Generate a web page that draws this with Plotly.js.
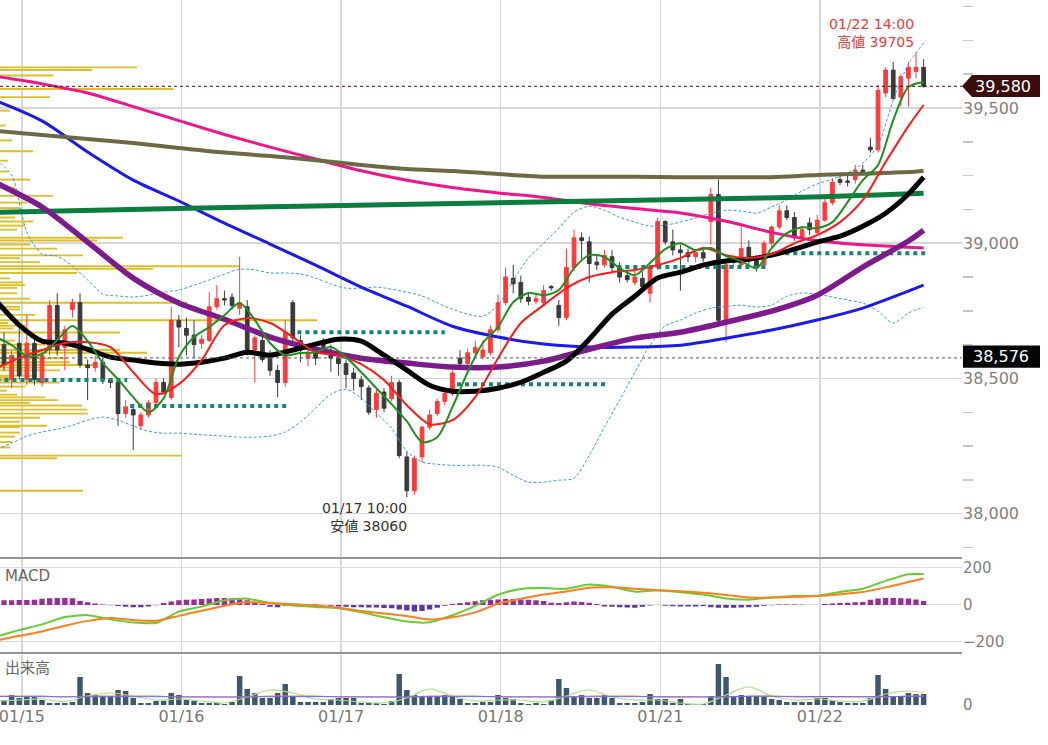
<!DOCTYPE html>
<html><head><meta charset="utf-8">
<script src="https://cdn.plot.ly/plotly-3.0.1.min.js"></script>
<style>html,body{margin:0;padding:0;background:#fff}#chart{width:1048px;height:745px}</style>
</head><body><div id="chart"></div>
<script>
// ---------- DATA (hourly bars, Nikkei 225 futures) ----------
const dayTicks  = [2.35, 23.35, 44.35, 65.35, 86.35, 107.35];
const dayLabels = ['01/15','01/16','01/17','01/18','01/21','01/22'];

const open = [38625,38495,38630,38495,38630,38485,38605,38770,38615,38755,
  38780,38550,38540,38560,38495,38485,38370,38385,38325,38365,
  38410,38485,38430,38715,38685,38660,38630,38640,38765,38795,
  38800,38760,38765,38605,38640,38575,38530,38485,38780,38640,
  38575,38595,38635,38605,38575,38555,38520,38495,38465,38385,
  38450,38425,38485,38210,38085,38210,38320,38370,38415,38445,
  38575,38555,38595,38580,38595,38680,38780,38870,38855,38800,
  38785,38780,38840,38770,38725,38910,39020,39005,38930,38920,
  38950,38910,38880,38855,38870,38815,38910,39080,39005,38975,
  38965,38950,38965,39080,39180,38715,38930,38920,38985,38940,
  38920,39000,39060,39120,39095,39020,39075,39040,39085,39150,
  39235,39230,39235,39270,39355,39345,39555,39640,39540,39610,
  39635,39650];
const high = [38670,38605,38685,38735,38650,38605,38790,38815,38695,38795,
  38815,38570,38585,38575,38500,38495,38420,38400,38375,38420,
  38500,38500,38765,38735,38725,38715,38660,38820,38845,38825,
  38815,38950,38790,38660,38660,38605,38550,38715,38790,38660,
  38625,38610,38650,38625,38595,38570,38540,38510,38475,38465,
  38465,38510,38495,38230,38215,38325,38385,38425,38465,38530,
  38605,38610,38640,38640,38695,38810,38910,38920,38880,38820,
  38810,38845,38845,38790,38980,39050,39040,39025,38955,38975,
  38975,38930,38900,38900,38895,38920,39095,39085,39050,38995,
  38980,38975,38980,39205,39235,38930,38955,39060,39010,38955,
  39010,39065,39140,39140,39115,39065,39095,39105,39165,39240,
  39250,39250,39290,39290,39390,39585,39650,39670,39625,39670,
  39705,39680];
const low = [38530,38465,38495,38475,38475,38470,38585,38585,38530,38725,
  38540,38420,38525,38480,38465,38325,38355,38235,38310,38355,
  38400,38440,38420,38615,38585,38575,38610,38635,38755,38770,
  38755,38735,38585,38485,38560,38510,38430,38470,38635,38560,
  38545,38550,38595,38525,38510,38465,38455,38420,38365,38355,
  38375,38415,38205,38060,38070,38190,38310,38360,38400,38435,
  38545,38545,38580,38570,38585,38670,38770,38815,38780,38770,
  38775,38770,38825,38695,38715,38895,38940,38855,38900,38910,
  38895,38855,38855,38845,38820,38780,38900,38995,38955,38825,
  38930,38930,38930,38995,38710,38635,38910,38910,38920,38895,
  38910,38980,39050,39085,39010,39010,39030,39030,39080,39140,
  39215,39210,39220,39250,39335,39335,39540,39530,39505,39505,
  39610,39575];
const close = [38550,38585,38510,38630,38495,38585,38770,38605,38680,38780,
  38550,38540,38560,38495,38485,38370,38395,38365,38365,38410,
  38485,38450,38715,38690,38660,38625,38645,38765,38795,38790,
  38770,38780,38595,38650,38570,38530,38485,38670,38650,38605,
  38595,38575,38615,38575,38555,38515,38500,38470,38375,38445,
  38390,38485,38215,38085,38205,38320,38365,38415,38445,38520,
  38555,38595,38615,38605,38680,38780,38875,38850,38795,38785,
  38795,38825,38835,38725,38910,39020,39010,38925,38920,38955,
  38910,38875,38865,38875,38840,38910,39080,39005,38975,38965,
  38950,38965,38945,39180,38715,38920,38940,38980,38940,38910,
  39000,39060,39120,39095,39020,39050,39050,39085,39150,39225,
  39225,39225,39270,39265,39345,39565,39640,39535,39615,39650,
  39650,39580];

const ma75Pink   = [39616,39589,39555,39505,39453,39402,39355,39311,39268,39233,39206,39186,39169,39146,39128,39112,39081,39040,39009,38994,38985,38982];
const ma100Blue  = [39526,39452,39337,39233,39156,39074,38997,38919,38838,38767,38693,38653,38627,38616,38616,38623,38649,38679,38716,38760,38823,38845];
const ma200Olive = [39415,39400,39385,39370,39352,39335,39322,39307,39289,39274,39267,39256,39246,39246,39246,39244,39244,39244,39252,39257,39263,39267];
const ma50Purple = [39222,39134,39004,38871,38779,38719,38653,38608,38575,38557,38542,38542,38564,38608,38649,38671,38708,38749,38808,38912,39008,39048];
const maGreenX   = [-1,26,52,78,105,121];
const maGreenLong= [39114,39130,39143,39156,39170,39185];
const ma25Black  = [38786,38697,38638,38631,38608,38579,38568,38557,38553,38560,38575,38597,38586,38605,38627,38645,38638,38586,38531,38475,38453,38453,38464,38486,38523,38564,38645,38738,38804,38871,38893,38919,38934,38941,38956,38978,39004,39026,39063,39111,39182,39244];
const ma10Red    = [38538,38575,38605,38631,38634,38616,38523,38442,38479,38568,38697,38723,38705,38653,38597,38586,38553,38494,38401,38331,38346,38431,38575,38705,38771,38834,38875,38893,38901,38919,38945,38982,38956,38945,38960,39000,39030,39078,39160,39300,39433,39511];
const ma5Green   = [38653,38623,38583,38590,38642,38694,38638,38557,38497,38431,38375,38427,38579,38653,38690,38734,38779,38716,38631,38586,38594,38597,38616,38579,38523,38464,38405,38342,38265,38283,38394,38523,38631,38690,38782,38816,38808,38827,38908,38956,38949,38908,38882,38927,38978,39000,38974,38982,38952,38934,38908,38982,39037,39059,39056,39078,39152,39233,39289,39455,39577,39596];
const bbUpper    = [39307,39252,39041,38960,38952,38915,38864,38812,38805,38801,38808,38819,38827,38845,38864,38886,38904,38901,38890,38890,38886,38871,38849,38834,38834,38838,38830,38819,38805,38779,38756,38738,38730,38771,38864,38945,39000,39056,39115,39137,39122,39096,39078,39063,39067,39078,39093,39111,39122,39119,39111,39134,39160,39193,39219,39237,39259,39296,39363,39529,39662,39740];
const bbLower    = [38239,38261,38287,38302,38313,38327,38346,38357,38346,38324,38305,38298,38298,38294,38290,38287,38283,38283,38287,38302,38339,38390,38442,38460,38427,38372,38316,38231,38191,38183,38179,38179,38179,38172,38142,38117,38117,38124,38131,38216,38320,38420,38523,38623,38694,38716,38742,38760,38767,38771,38764,38771,38804,38816,38812,38801,38790,38779,38749,38705,38742,38764];

// daily support levels (dotted)
const supLevel = [38494,38398,38671,38479,38912,38963];
const supStart = [-1,16.6,38.6,59.6,80.7,102.8];
const supEnd   = [16.2,37.6,58,79.3,100.4,121.2];

// price-by-volume profile
const profPrice = [39650,39640,39620,39570,39540,39490,39435,39380,39340,39305,39265,39235,39205,39175,39150,39130,39115,39095,39080,39065,39050,39020,39010,38995,38980,38955,38945,38930,38915,38905,38890,38870,38855,38845,38835,38815,38795,38780,38765,38755,38735,38715,38705,38695,38685,38670,38640,38625,38605,38595,38575,38560,38550,38540,38530,38510,38505,38495,38485,38470,38455,38440,38430,38420,38410,38400,38385,38370,38355,38340,38325,38320,38300,38285,38265,38245,38215,38205,38085];
const profVol   = [137,92,53,173,50,10,6,12,33,8,8,30,15,53,27,20,12,15,33,25,17,123,97,30,57,83,20,40,240,153,77,10,23,25,17,17,30,187,20,20,35,317,8,25,13,120,15,45,120,147,67,70,97,40,60,35,13,10,60,25,7,17,45,58,30,82,87,88,40,20,47,20,20,15,12,10,182,57,83];

// MACD
const macd   = [-170,-136,-105,-65,-55,-78,-95,-97,-36,-9,25,34,10,-3,-11,-18,-40,-66,-90,-94,-56,-5,55,86,91,88,111,98,72,79,69,56,35,28,40,49,49,70,88,130,166,167];
const signal = [-192,-167,-143,-112,-86,-70,-82,-86,-59,-31,-4,15,10,4,-3,-15,-33,-46,-60,-79,-66,-40,7,34,56,73,93,95,88,80,74,66,54,40,40,44,48,58,70,95,124,143];
const macdHist = [25,26,27,27,28,33,36,38,38,36,22,15,8,2,-2,-6,-10,-12,-12,-8,-2,10,18,25,28,30,32,35,38,38,36,32,25,15,5,-10,-12,-5,0,2,3,2,0,-5,-8,-10,-12,-12,-14,-14,-16,-18,-25,-30,-35,-33,-25,-15,-5,5,10,15,20,25,28,30,32,32,30,28,26,22,12,10,15,18,16,12,5,-8,-10,-12,-14,-15,-10,-3,0,-5,-7,-8,-8,-8,-6,-12,-15,-15,-15,-14,-12,-10,-5,-2,2,3,2,1,0,0,5,8,10,12,14,16,28,35,38,38,36,35,30,22];

// volume
const volume = [5,10,7,8,8,5,2,2,2,3, 28,12,10,9,9,15,14,7,2,2, 4,4,12,10,5,4,2,2,2,1, 3,29,16,12,7,7,12,21,9,3,
  3,3,3,6,7,7,7,2,2,2, 1,4,31,15,10,9,9,9,10,9, 6,2,2,3,3,10,7,6,2,1, 2,1,5,26,17,9,10,7,7,10,
  7,2,2,2,3,11,6,6,2,6, 1,1,1,9,41,28,9,10,9,9, 8,6,5,3,3,3,3,7,7,5, 3,2,2,2,7,30,16,9,9,12, 11,11];
const volMaShort = [4,5,6,3.5,9,12,9,5,6,4,2,8,15,12,6,5,3,2,7,16,9,4,5,5,3,9,15,8,5,5,2,1,10,18,9,5,6,4,4,11,14,12];
const volMaMid   = [9,9,9,8,9,9,9,9,8,8,8,8,9,9,9,8,8,8,8,9,9,9,8,8,8,8,9,9,9,8,8,8,8,9,9,8,8,8,8,8,9,9];
const volMaLong  = [8.5,8.5,8.3,8.2,8.2,8.3,8.3,8.3,8.2,8.1,8.0,8.1,8.3,8.4,8.4,8.3,8.2,8.1,8.1,8.3,8.4,8.4,8.3,8.2,8.1,8.1,8.2,8.4,8.4,8.3,8.2,8.1,8.2,8.6,8.7,8.6,8.5,8.4,8.3,8.4,8.6,8.6];

const lastPrice = 39580, refPrice = 38576;
const highIdx = 120, highVal = 39705, highTime = '01/22 14:00';
const lowIdx = 53, lowVal = 38060, lowTime = '01/17 10:00';

// ---------- helpers ----------
const N = open.length;
const bars = Array.from({length: N}, (_, i) => i);
function every(step) { const a = [-1]; for (let i = -1 + step; i < N - 1; i += step) a.push(i); a.push(N - 1); return a; }
const x6 = every(6), x3 = every(3), x2 = every(2);
const fmt = v => v.toLocaleString('en-US');
const FONT = 'DejaVu Sans, "Noto Sans CJK JP", sans-serif';
const XR = [-0.53, 126.05];

function line(x, y, color, width, extra) {
  return Object.assign({type: 'scatter', mode: 'lines', x: x, y: y, xaxis: 'x2', yaxis: 'y',
    line: {color: color, width: width, shape: 'spline', smoothing: 0.8}, hoverinfo: 'skip'}, extra || {});
}

const supX = [], supY = [];
supLevel.forEach((v, k) => { supX.push(supStart[k], supEnd[k], null); supY.push(v, v, null); });

const traces = [
  {type: 'bar', orientation: 'h', x: profVol, y: profPrice, width: 7, xaxis: 'x', yaxis: 'y',
   marker: {color: '#dcbf2a', line: {width: 0}}, hoverinfo: 'skip'},
  {type: 'candlestick', x: bars, open: open, high: high, low: low, close: close, xaxis: 'x2', yaxis: 'y',
   increasing: {line: {color: '#ff3a3a', width: 1}, fillcolor: '#ff3a3a'},
   decreasing: {line: {color: '#3a3a3a', width: 1}, fillcolor: '#3a3a3a'}, whiskerwidth: 0, hoverinfo: 'skip'},
  line(x2, bbUpper, '#3d9bd6', 1, {line: {color: '#3d9bd6', width: 1, dash: '3px,2px', shape: 'spline', smoothing: 0.8}}),
  line(x2, bbLower, '#3d9bd6', 1, {line: {color: '#3d9bd6', width: 1, dash: '3px,2px', shape: 'spline', smoothing: 0.8}}),
  {type: 'scatter', mode: 'lines', x: supX, y: supY, xaxis: 'x2', yaxis: 'y', connectgaps: false,
   line: {color: '#138577', width: 4, dash: 'dot'}, hoverinfo: 'skip'},
  line(x6, ma75Pink, '#f0148c', 3),
  line(x6, ma100Blue, '#1a1aee', 3),
  line(x6, ma200Olive, '#6b6a45', 4),
  line(maGreenX, maGreenLong, '#0b7d3e', 5),
  line(x6, ma50Purple, '#7d1a8c', 5.5),
  line(x3, ma25Black, '#000000', 5),
  line(x3, ma10Red, '#ff1a1a', 2),
  line(x2, ma5Green, '#1f8f1f', 2),
  // MACD
  {type: 'bar', x: bars, y: macdHist, width: 0.7, xaxis: 'x3', yaxis: 'y2',
   marker: {color: macdHist.map(v => v >= 0 ? '#9a2c9a' : '#5a34b8')}, hoverinfo: 'skip'},
  {type: 'scatter', mode: 'lines', x: x3, y: macd, xaxis: 'x3', yaxis: 'y2', line: {color: '#66cc33', width: 2, shape: 'spline', smoothing: 0.6}, hoverinfo: 'skip'},
  {type: 'scatter', mode: 'lines', x: x3, y: signal, xaxis: 'x3', yaxis: 'y2', line: {color: '#ff7f1e', width: 2, shape: 'spline', smoothing: 0.6}, hoverinfo: 'skip'},
  // Volume
  {type: 'bar', x: bars, y: volume, width: 0.72, xaxis: 'x4', yaxis: 'y3', marker: {color: '#3f576e'}, hoverinfo: 'skip'},
  {type: 'scatter', mode: 'lines', x: x3, y: volMaShort, xaxis: 'x4', yaxis: 'y3', line: {color: '#a6df85', width: 1.2, shape: 'spline'}, hoverinfo: 'skip'},
  {type: 'scatter', mode: 'lines', x: x3, y: volMaMid, xaxis: 'x4', yaxis: 'y3', line: {color: '#f5873a', width: 1, shape: 'spline'}, hoverinfo: 'skip'},
  {type: 'scatter', mode: 'lines', x: x3, y: volMaLong, xaxis: 'x4', yaxis: 'y3', line: {color: '#6a6aff', width: 1, shape: 'spline'}, hoverinfo: 'skip'}
];

const gridX = {range: XR, tickmode: 'array', tickvals: dayTicks, showgrid: true, gridcolor: '#d8d8d8', gridwidth: 1.5,
  zeroline: false, showline: false, ticks: '', fixedrange: true};

const layout = {
  width: 1048, height: 745, margin: {l: 0, r: 86, t: 0, b: 40},
  paper_bgcolor: '#fff', plot_bgcolor: '#fff', showlegend: false,
  font: {family: FONT, color: '#777'},
  xaxis: {domain: [0, 1], range: [0, 962], visible: false, fixedrange: true},
  xaxis2: Object.assign({overlaying: 'x', anchor: 'y', showticklabels: false, rangeslider: {visible: false}}, gridX),
  xaxis3: Object.assign({anchor: 'y2', domain: [0, 1], showticklabels: false}, gridX),
  xaxis4: Object.assign({anchor: 'y3', domain: [0, 1], showticklabels: true, ticktext: dayLabels,
    ticklabeloverflow: 'allow', tickfont: {size: 16, color: '#777'}}, gridX),
  yaxis: {domain: [0.2099, 1], range: [37840, 39899], side: 'right', anchor: 'x',
    tickmode: 'linear', tick0: 0, dtick: 500, tickformat: ',', ticks: '',
    showgrid: true, gridcolor: '#d6d6d6', gridwidth: 1.5, zeroline: false,
    minor: {tickmode: 'linear', tick0: 0, dtick: 125, ticks: 'outside', ticklen: 10, tickcolor: '#c4c4c4', tickwidth: 1.5, showgrid: false},
    tickfont: {size: 16, color: '#808080'}, fixedrange: true},
  yaxis2: {domain: [0.0738, 0.2078], range: [-259.5, 251], side: 'right', anchor: 'x3',
    tickmode: 'array', tickvals: [-200, 0, 200], showgrid: true, gridcolor: '#dcdcdc', zeroline: false, ticks: '',
    tickfont: {size: 15, color: '#808080'}, fixedrange: true},
  yaxis3: {domain: [0, 0.0709], range: [0, 50], side: 'right', anchor: 'x4',
    tickmode: 'array', tickvals: [0], showgrid: true, gridcolor: '#dcdcdc', zeroline: false, ticks: '',
    tickfont: {size: 15, color: '#808080'}, fixedrange: true},
  shapes: [
    {type: 'line', xref: 'paper', yref: 'paper', x0: 0, x1: 1, y0: 0.2085, y1: 0.2085, line: {color: '#707070', width: 1.5}},
    {type: 'line', xref: 'paper', yref: 'paper', x0: 0, x1: 1, y0: 0.0738, y1: 0.0738, line: {color: '#707070', width: 1.5}},
    {type: 'line', xref: 'paper', yref: 'y', x0: 0, x1: 1, y0: lastPrice, y1: lastPrice, line: {color: '#4a0a0a', width: 1, dash: 'dot'}},
    {type: 'line', xref: 'paper', yref: 'y', x0: 0, x1: 1, y0: refPrice, y1: refPrice, line: {color: '#555', width: 1, dash: 'dot'}},
    {type: 'path', xref: 'paper', yref: 'y', fillcolor: '#3b0d0d', line: {width: 0},
     path: `M 1.0,${lastPrice} L 1.0104,${lastPrice + 42} L 1.0811,${lastPrice + 42} L 1.0811,${lastPrice - 40} L 1.0104,${lastPrice - 40} Z`},
    {type: 'rect', xref: 'paper', yref: 'y', x0: 1.001, x1: 1.0811, y0: refPrice - 36, y1: refPrice + 46, fillcolor: '#050505', line: {width: 0}}
  ],
  annotations: [
    {xref: 'x2', yref: 'y', x: highIdx, y: highVal, text: `${highTime}<br>高値 ${highVal}`, showarrow: false,
     xanchor: 'right', yanchor: 'bottom', align: 'right', font: {size: 14, color: '#f03c3c'}},
    {xref: 'x2', yref: 'y', x: lowIdx, y: lowVal, text: `${lowTime}<br>安値 ${lowVal}`, showarrow: false,
     xanchor: 'right', yanchor: 'top', align: 'right', xshift: 2, font: {size: 14, color: '#333'}},
    {xref: 'paper', yref: 'paper', x: 0.003, y: 0.183, text: 'MACD', showarrow: false, xanchor: 'left', yanchor: 'middle', font: {size: 15, color: '#666'}},
    {xref: 'paper', yref: 'paper', x: 0.003, y: 0.0525, text: '出来高', showarrow: false, xanchor: 'left', yanchor: 'middle', font: {size: 15, color: '#666'}},
    {xref: 'paper', yref: 'y', x: 1.0426, y: lastPrice, text: fmt(lastPrice), showarrow: false, xanchor: 'center', yanchor: 'middle', font: {size: 16, color: '#fff'}},
    {xref: 'paper', yref: 'y', x: 1.0405, y: refPrice + 5, text: fmt(refPrice), showarrow: false, xanchor: 'center', yanchor: 'middle', font: {size: 16, color: '#fff'}}
  ]
};

Plotly.newPlot('chart', traces, layout, {displayModeBar: false, staticPlot: true});
</script></body></html>
